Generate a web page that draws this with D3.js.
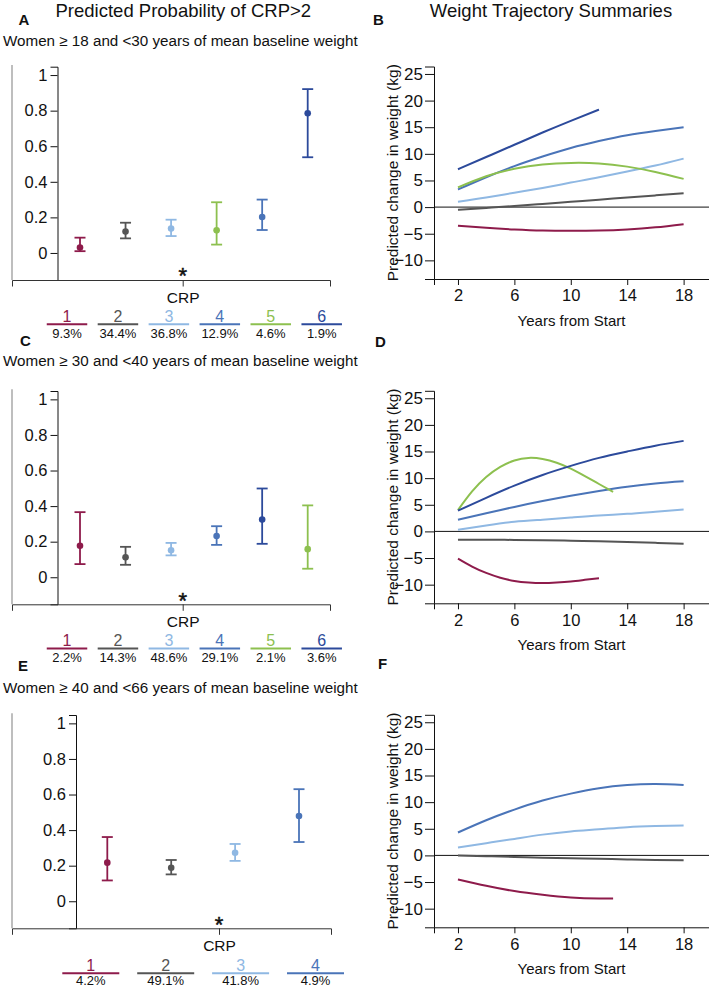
<!DOCTYPE html>
<html><head><meta charset="utf-8">
<script src="https://cdn.jsdelivr.net/npm/d3@7"></script>
<style>
html,body{margin:0;padding:0;background:#fff;}
svg{display:block;font-family:"Liberation Sans",Arial,Helvetica,sans-serif;}
</style></head><body>
<svg id="chart" width="709" height="988"></svg>
<script>
// ================= DATA =================
const classNames = ["1","2","3","4","5","6"];
const classColors = ["#8e1b4b","#555555","#8fb8e3","#4a74b8","#8dc04f","#2c4a9b"];

const mainTitleLeft = "Predicted Probability of CRP>2";
const mainTitleRight = "Weight Trajectory Summaries";
const probTicks = [0,0.2,0.4,0.6,0.8,1];
const probAxisLabel = "CRP";
const weightTicks = [-10,-5,0,5,10,15,20,25];
const yearTicks = [2,6,10,14,18];
const weightLabel = "Predicted change in weight (kg)";
const yearLabel = "Years from Start";

// ---- Panel A / B : women 18-30 ----
const groupA = "Women \u2265 18 and <30 years of mean baseline weight";
const probClassA = [1,2,3,5,4,6];
const probEstA = [0.030,0.120,0.137,0.127,0.202,0.785];
const probLoA  = [0.010,0.082,0.095,0.047,0.129,0.538];
const probHiA  = [0.086,0.170,0.187,0.285,0.300,0.921];
const legendClassA = [1,2,3,4,5,6];
const legendPctA = ["9.3%","34.4%","36.8%","12.9%","4.6%","1.9%"];

const yearsFull = [2,4,6,8,10,12,14,16,18];
const trajClassB = [1,2,3,4,5,6];
const trajYearsB = [yearsFull,yearsFull,yearsFull,yearsFull,yearsFull,[2,4,6,8,10,12]];
const trajB1 = [-3.5,-3.9,-4.2,-4.4,-4.45,-4.4,-4.2,-3.8,-3.2];
const trajB2 = [-0.5,-0.15,0.2,0.6,1.0,1.4,1.8,2.2,2.6];
const trajB3 = [1.0,1.8,2.7,3.6,4.6,5.6,6.7,7.8,9.1];
const trajB4 = [3.3,5.6,7.7,9.5,11.1,12.4,13.5,14.3,15.0];
const trajB5 = [3.7,5.8,7.2,8.0,8.3,8.2,7.6,6.6,5.3];
const trajB6 = [7.1,9.4,11.7,14.0,16.2,18.3];

// ---- Panel C / D : women 30-40 ----
const groupC = "Women \u2265 30 and <40 years of mean baseline weight";
const probClassC = [1,2,3,4,6,5];
const probEstC = [0.177,0.112,0.152,0.232,0.324,0.158];
const probLoC  = [0.074,0.070,0.123,0.182,0.188,0.048];
const probHiC  = [0.366,0.171,0.193,0.287,0.499,0.404];
const legendClassC = [1,2,3,4,5,6];
const legendPctC = ["2.2%","14.3%","48.6%","29.1%","2.1%","3.6%"];

const trajClassD = [1,2,3,4,5,6];
const trajYearsD = [[2,3,4,5,6,7,8,9,10,11,12],yearsFull,yearsFull,yearsFull,[2,3,4,5,6,7,8,9,10,11,12,13],yearsFull];
const trajD1 = [-5.1,-6.6,-7.8,-8.7,-9.3,-9.6,-9.7,-9.6,-9.4,-9.1,-8.8];
const trajD2 = [-1.55,-1.55,-1.6,-1.65,-1.75,-1.85,-2.0,-2.15,-2.3];
const trajD3 = [0.3,1.1,1.8,2.2,2.6,3.0,3.3,3.7,4.1];
const trajD4 = [2.2,3.4,4.6,5.7,6.7,7.6,8.4,9.0,9.4];
const trajD5 = [4.0,7.5,10.2,12.1,13.3,13.8,13.6,12.9,11.8,10.4,8.9,7.4];
const trajD6 = [3.9,6.3,8.6,10.6,12.3,13.8,15.0,16.1,17.0];

// ---- Panel E / F : women 40-66 ----
const groupE = "Women \u2265 40 and <66 years of mean baseline weight";
const probClassE = [1,2,3,4];
const probEstE = [0.217,0.188,0.273,0.479];
const probLoE  = [0.117,0.151,0.227,0.333];
const probHiE  = [0.361,0.232,0.322,0.630];
const legendClassE = [1,2,3,4];
const legendPctE = ["4.2%","49.1%","41.8%","4.9%"];

const trajClassF = [1,2,3,4];
const trajYearsF = [[2,4,6,8,10,12,13],yearsFull,yearsFull,yearsFull];
const trajF1 = [-4.5,-5.7,-6.7,-7.4,-7.9,-8.1,-8.1];
const trajF2 = [0,-0.15,-0.3,-0.45,-0.55,-0.65,-0.75,-0.85,-0.9];
const trajF3 = [1.5,2.3,3.1,3.9,4.5,4.9,5.3,5.5,5.6];
const trajF4 = [4.3,6.6,8.6,10.3,11.6,12.6,13.2,13.4,13.2];

// ================= DRAWING =================
const svg = d3.select("#chart");
const ink = "#111";
const colorOf = c => classColors[c-1];

function txt(x, y, s, size, opts = {}) {
  return svg.append("text").attr("x", x).attr("y", y).text(s)
    .attr("font-size", size).attr("fill", opts.fill || ink)
    .attr("text-anchor", opts.anchor || "start")
    .attr("font-weight", opts.bold ? "bold" : null);
}

// Main titles
txt(183.3, 17, mainTitleLeft, 18.5, {anchor: "middle"});
txt(551, 17, mainTitleRight, 18.5, {anchor: "middle"});

function probPanel(p) {
  const g = svg.append("g");
  const y = d3.scaleLinear().domain([-0.152, 1.047]).range([p.bottom, p.bottom - 213.3]);
  const x = d3.scalePoint().domain(d3.range(p.est.length)).range(p.ptRange);

  txt(p.letterX, p.letterY, p.letter, 15, {bold: true});
  txt(3, p.subY, p.group, 15.2);

  // outer frame line
  g.append("line").attr("x1", 12).attr("x2", 12)
    .attr("y1", p.bottom - 215).attr("y2", p.bottom)
    .attr("stroke", "#a9a9a9").attr("stroke-width", 1.5);

  // y axis
  const ya = g.append("g").attr("transform", `translate(${p.axisX},0)`)
    .call(d3.axisLeft(y).tickValues(probTicks).tickFormat(d => String(d))
      .tickSizeOuter(0).tickSize(7).tickPadding(3));
  ya.selectAll("path,line").attr("stroke", ink);
  ya.selectAll("text").attr("font-size", 16.5).attr("fill", ink)
    .attr("font-family", null);

  // x axis (single labelled tick)
  const xs = d3.scaleLinear().domain([0, 1]).range([12, p.axisRight]);
  const crpVal = xs.invert(p.crpX);
  const xa = g.append("g").attr("transform", `translate(0,${p.bottom})`)
    .call(d3.axisBottom(xs).tickValues([crpVal]).tickFormat(() => probAxisLabel)
      .tickSizeOuter(0).tickSize(6.5).tickPadding(5));
  xa.selectAll("path,line").attr("stroke", "#333");
  xa.selectAll("text").attr("font-size", 15.5).attr("fill", ink).attr("font-family", null);

  // asterisk (significance marker)
  txt(p.crpX, p.bottom + 3.2, "*", 22, {anchor: "middle"})
    .attr("stroke", ink).attr("stroke-width", 0.5);

  // error bars
  const pts = g.append("g");
  p.est.forEach((e, i) => {
    const c = colorOf(p.cls[i]);
    const cx = x(i);
    pts.append("line").attr("x1", cx).attr("x2", cx)
      .attr("y1", y(p.lo[i])).attr("y2", y(p.hi[i]))
      .attr("stroke", c).attr("stroke-width", 1.8);
    [p.lo[i], p.hi[i]].forEach(v => {
      pts.append("line").attr("x1", cx - 5.5).attr("x2", cx + 5.5)
        .attr("y1", y(v)).attr("y2", y(v))
        .attr("stroke", c).attr("stroke-width", 1.8);
    });
    pts.append("circle").attr("cx", cx).attr("cy", y(e)).attr("r", 3.3).attr("fill", c);
  });

  // legend
  const lx = d3.scalePoint().domain(d3.range(p.legCls.length)).range(p.legRange);
  p.legCls.forEach((c, i) => {
    const cx = lx(i);
    svg.append("line").attr("x1", cx - p.legW / 2).attr("x2", cx + p.legW / 2)
      .attr("y1", p.legLineY).attr("y2", p.legLineY)
      .attr("stroke", colorOf(c)).attr("stroke-width", 2);
    txt(cx, p.legLineY - 2.3, classNames[c - 1], 16, {anchor: "middle", fill: colorOf(c)});
    txt(cx, p.legPctY, p.legPct[i], 13, {anchor: "middle"});
  });
}

function trajPanel(p) {
  const g = svg.append("g");
  const x = d3.scaleLinear().domain([0.3, 19.8]).range([434, 709]);
  const y = d3.scaleLinear().domain([-13.5, 26.4]).range([p.bottom, p.bottom - 212.5]);

  txt(p.letterX, p.letterY, p.letter, 15, {bold: true});

  const ya = g.append("g").attr("transform", "translate(434,0)")
    .call(d3.axisLeft(y).tickValues(weightTicks).tickSizeOuter(0).tickSize(9).tickPadding(2));
  ya.selectAll("path,line").attr("stroke", ink);
  ya.selectAll("text").attr("font-size", 17).attr("fill", ink).attr("font-family", null);

  const xa = g.append("g").attr("transform", `translate(0,${p.bottom})`)
    .call(d3.axisBottom(x).tickValues(yearTicks).tickSizeOuter(0).tickSize(6).tickPadding(4.5));
  xa.selectAll("path,line").attr("stroke", ink);
  xa.selectAll("text").attr("font-size", 16.5).attr("fill", ink).attr("font-family", null);

  // zero reference line
  g.append("line").attr("x1", x.range()[0]).attr("x2", x.range()[1])
    .attr("y1", y(0)).attr("y2", y(0)).attr("stroke", ink).attr("stroke-width", 1);

  const line = d3.line().x(d => x(d[0])).y(d => y(d[1])).curve(d3.curveNatural);
  p.cls.forEach((c, i) => {
    const pts = p.years[i].map((yr, k) => [yr, p.vals[i][k]]);
    g.append("path").attr("d", line(pts)).attr("fill", "none")
      .attr("stroke", colorOf(c)).attr("stroke-width", 2).attr("stroke-linecap", "butt");
  });

  const midY = (y.range()[0] + y.range()[1]) / 2;
  svg.append("text").attr("transform", `translate(398,${midY}) rotate(-90)`)
    .attr("text-anchor", "middle").attr("font-size", 15.5).attr("fill", ink).text(weightLabel);
  txt(571.5, p.bottom + 46.5, yearLabel, 15, {anchor: "middle"});
}

// Left panels
probPanel({letter: "A", letterX: 18.5, letterY: 25, group: groupA, subY: 45.5,
  bottom: 280, axisX: 57.5, axisRight: 330, ptRange: [80, 307.7], crpX: 182.7,
  est: probEstA, lo: probLoA, hi: probHiA, cls: probClassA,
  legCls: legendClassA, legPct: legendPctA, legRange: [67, 321.7], legW: 40.5,
  legLineY: 324.3, legPctY: 338});
probPanel({letter: "C", letterX: 20, letterY: 346, group: groupC, subY: 365.5,
  bottom: 604.3, axisX: 57.5, axisRight: 330, ptRange: [80, 307.7], crpX: 182.7,
  est: probEstC, lo: probLoC, hi: probHiC, cls: probClassC,
  legCls: legendClassC, legPct: legendPctC, legRange: [67, 321.7], legW: 40.5,
  legLineY: 648.5, legPctY: 661.5});
probPanel({letter: "E", letterX: 18, letterY: 670.5, group: groupE, subY: 692.5,
  bottom: 928.3, axisX: 76, axisRight: 331, ptRange: [107.3, 299], crpX: 219,
  est: probEstE, lo: probLoE, hi: probHiE, cls: probClassE,
  legCls: legendClassE, legPct: legendPctE, legRange: [90.8, 315.5], legW: 57,
  legLineY: 973.3, legPctY: 984.8});

// Right panels
trajPanel({letter: "B", letterX: 373, letterY: 25, bottom: 279,
  cls: trajClassB, years: trajYearsB, vals: [trajB1, trajB2, trajB3, trajB4, trajB5, trajB6]});
trajPanel({letter: "D", letterX: 375, letterY: 347, bottom: 603.3,
  cls: trajClassD, years: trajYearsD, vals: [trajD1, trajD2, trajD3, trajD4, trajD5, trajD6]});
trajPanel({letter: "F", letterX: 378, letterY: 669, bottom: 927.3,
  cls: trajClassF, years: trajYearsF, vals: [trajF1, trajF2, trajF3, trajF4]});
</script>
</body></html>
